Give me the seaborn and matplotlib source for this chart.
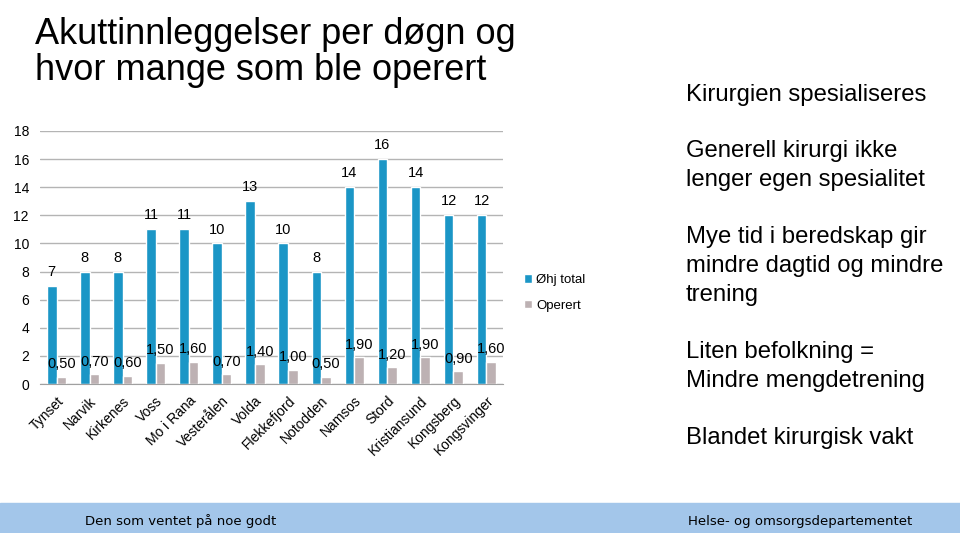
import numpy as np
import pandas as pd
import matplotlib
matplotlib.use("Agg")
import matplotlib.pyplot as plt
import seaborn as sns

# --- data ---
steder = ["Tynset", "Narvik", "Kirkenes", "Voss", "Mo i Rana", "Vesterålen", "Volda",
          "Flekkefjord", "Notodden", "Namsos", "Stord", "Kristiansund", "Kongsberg", "Kongsvinger"]
ohj_total = [7, 8, 8, 11, 11, 10, 13, 10, 8, 14, 16, 14, 12, 12]
operert = [0.5, 0.7, 0.6, 1.5, 1.6, 0.7, 1.4, 1.0, 0.5, 1.9, 1.2, 1.9, 0.9, 1.6]
serier = ["Øhj total", "Operert"]

punkter_1 = ["Kirurgien spesialiseres"]
punkter_2 = ["Generell kirurgi ikke", "lenger egen spesialitet"]
punkter_3 = ["Mye tid i beredskap gir", "mindre dagtid og mindre", "trening"]
punkter_4 = ["Liten befolkning =", "Mindre mengdetrening"]
punkter_5 = ["Blandet kirurgisk vakt"]

BLAA = "#1B96C6"
GRAA = "#BDB1B3"
FOOTER = "#A3C6EA"

df = pd.DataFrame({
    "sted": steder * 2,
    "serie": [serier[0]] * len(steder) + [serier[1]] * len(steder),
    "verdi": ohj_total + operert,
})

sns.set_style("white")
plt.rcParams["font.family"] = ["Liberation Sans", "DejaVu Sans"]
plt.rcParams["text.color"] = "black"
plt.rcParams["xtick.color"] = "black"
plt.rcParams["ytick.color"] = "black"

fig = plt.figure(figsize=(9.6, 5.33), dpi=100)
ax = fig.add_axes([40 / 960, 1 - 384 / 533, 463 / 960, 253 / 533])

sns.barplot(data=df, x="sted", y="verdi", hue="serie", palette=[BLAA, GRAA],
            width=0.58, saturation=1, ax=ax, legend=True)

# verdietiketter
ax.bar_label(ax.containers[0], labels=[str(v) for v in ohj_total], padding=5, fontsize=10.5)
ax.bar_label(ax.containers[1], labels=[f"{v:.2f}".replace(".", ",") for v in operert],
             padding=4, fontsize=10.5)

ax.set_ylim(0, 18)
ax.set_yticks(range(0, 19, 2))
ax.set_xlim(-0.5, len(steder) - 0.5)
ax.yaxis.grid(True, color="#B4B4B4", linewidth=1)
ax.set_axisbelow(True)
for s in ["top", "right", "left"]:
    ax.spines[s].set_visible(False)
ax.spines["bottom"].set_color("#A0A0A0")
ax.set_xlabel("")
ax.set_ylabel("")
ax.tick_params(axis="y", length=0, pad=8, labelsize=10)
ax.set_xticks(np.arange(-0.5, len(steder), 1), minor=True)
ax.tick_params(axis="x", which="major", length=0, pad=7, labelsize=10)
ax.tick_params(axis="x", which="minor", length=4, color="#A0A0A0", direction="out")
plt.setp(ax.get_xticklabels(), rotation=45, ha="right", rotation_mode="anchor")

leg = ax.legend(loc="center left", bbox_to_anchor=(1.02, 0.36), frameon=False,
                fontsize=9.5, handlelength=0.6, handleheight=0.6, handletextpad=0.3,
                labelspacing=1.0)

# tittel
fig.text(35 / 960, 1 - 34 / 533, "Akuttinnleggelser per døgn og", fontsize=26, va="center")
fig.text(35 / 960, 1 - 71 / 533, "hvor mange som ble operert", fontsize=26, va="center")

# punkter til høyre
linjer = [(punkter_1, 95), (punkter_2, 151), (punkter_3, 237), (punkter_4, 352), (punkter_5, 438)]
for tekst, y0 in linjer:
    for i, t in enumerate(tekst):
        fig.text(686 / 960, 1 - (y0 + 29 * i) / 533, t, fontsize=17.2, va="center")

# bunnlinje
fig.patches.append(plt.Rectangle((0, 0), 1, 30 / 533, transform=fig.transFigure,
                                 color=FOOTER, zorder=0))
fig.text(85 / 960, 12 / 533, "Den som ventet på noe godt", fontsize=9.5,
         family="DejaVu Sans", va="center")
fig.text(912 / 960, 12 / 533, "Helse- og omsorgsdepartementet", fontsize=9.5,
         family="DejaVu Sans", va="center", ha="right")

fig.savefig("out.png", dpi=100)
